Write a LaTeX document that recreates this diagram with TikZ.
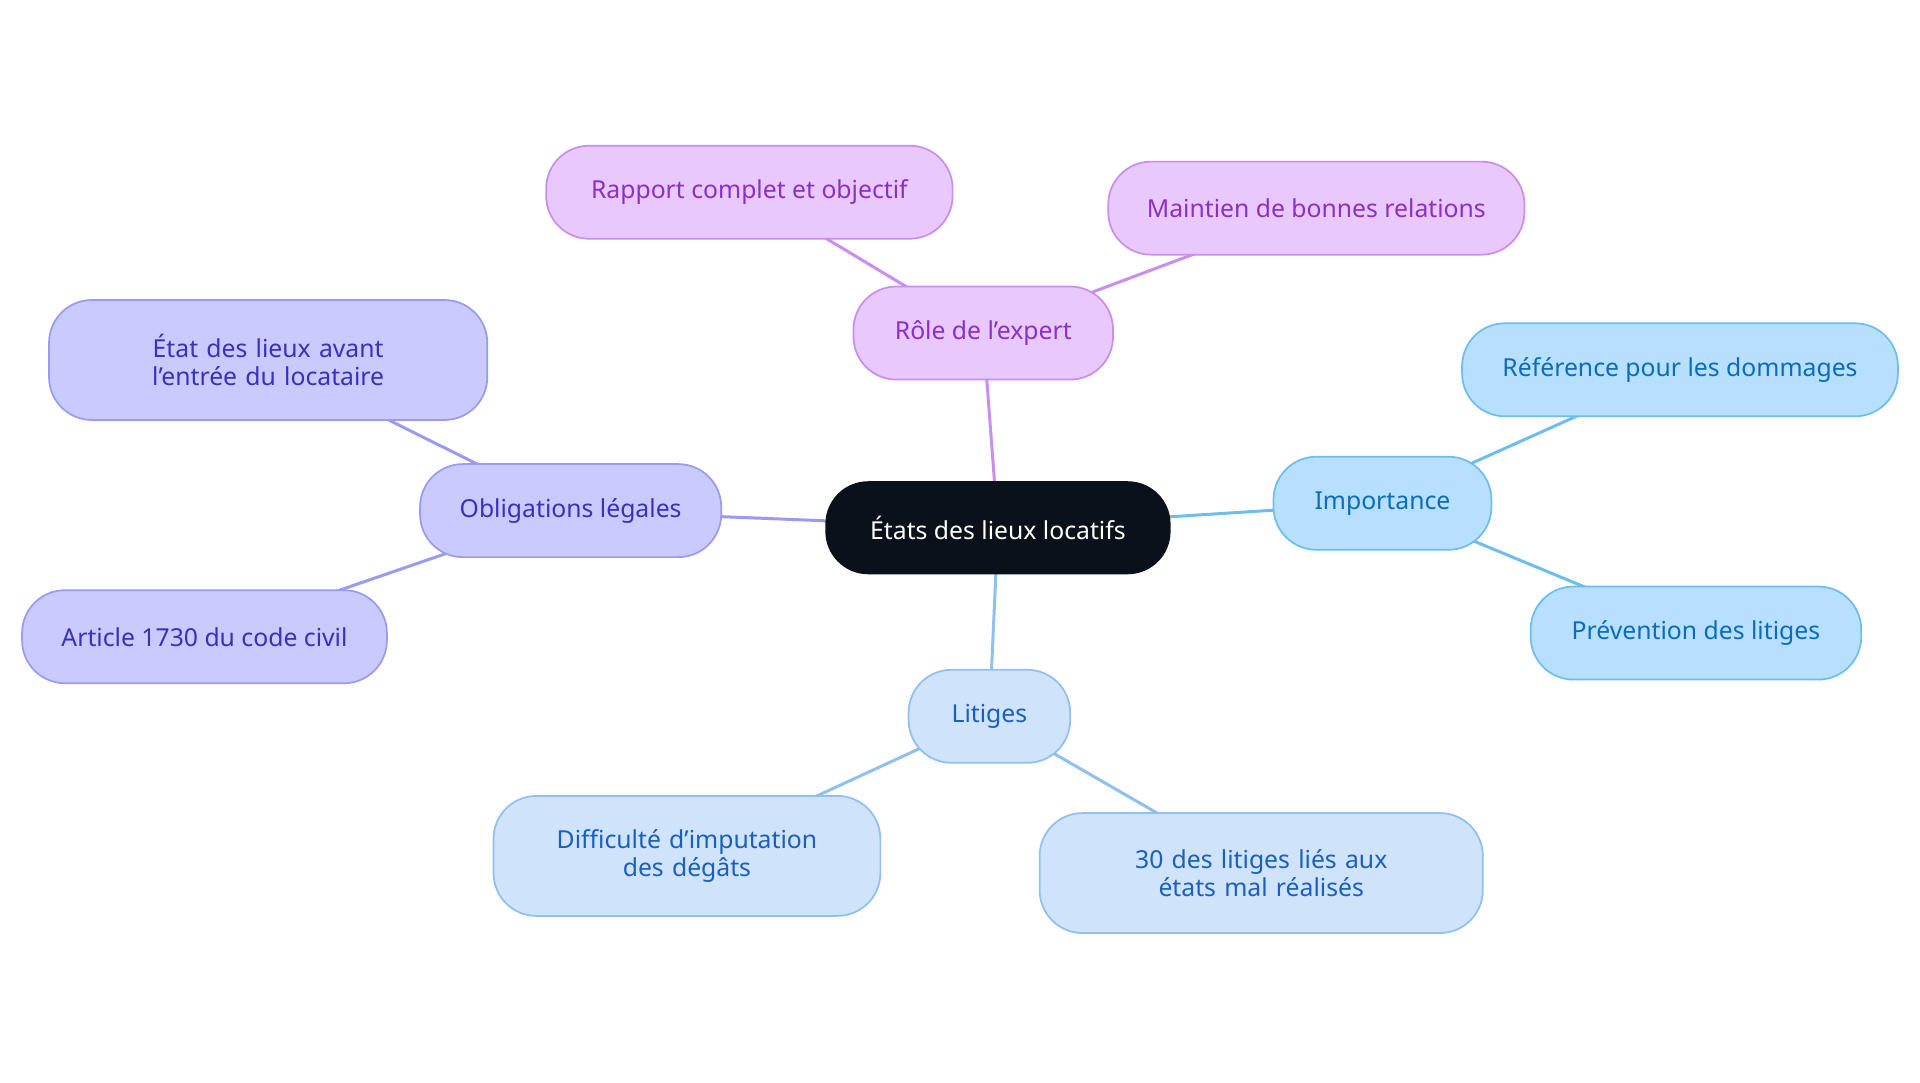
\documentclass[tikz,border=0pt]{standalone}
\usepackage{fontspec}
\setmainfont{Noto Sans}
\usetikzlibrary{backgrounds}
\definecolor{cfill}{HTML}{0B111B}
\definecolor{pfc}{HTML}{E8C8FD}\definecolor{pdc}{HTML}{C98EF0}\definecolor{ptc}{HTML}{8A2FC8}
\definecolor{ifc}{HTML}{CACAFE}\definecolor{idc}{HTML}{9A9AF0}\definecolor{itc}{HTML}{3A2FC0}
\definecolor{bfc}{HTML}{B6E0FD}\definecolor{bdc}{HTML}{6FBDF0}\definecolor{btc}{HTML}{0A6CC0}
\definecolor{lfc}{HTML}{CFE3FB}\definecolor{ldc}{HTML}{90BFF0}\definecolor{ltc}{HTML}{1A5FC0}
\tikzset{
 box/.style={rounded corners=0.7cm, minimum height=1.52cm, align=center, font=\fontsize{11.5}{13}\selectfont, line width=0.8pt},
 purp/.style={box, fill=pfc, draw=pdc, text=ptc},
 indi/.style={box, fill=ifc, draw=idc, text=itc},
 blu/.style={box, fill=bfc, draw=bdc, text=btc},
 lit/.style={box, fill=lfc, draw=ldc, text=ltc},
 edge/.style={line width=1.4pt},
}
\begin{document}
\begin{tikzpicture}[x=0.02cm,y=-0.02cm]
\useasboundingbox (0,0) rectangle (1568,884);
\node[box, fill=cfill, text=white, minimum width=5.64cm] (c) at (815,431) {États des lieux locatifs};
\node[purp, minimum width=4.24cm] (r) at (803,272) {Rôle de l’expert};
\node[purp, minimum width=6.64cm] (r1) at (612,157) {Rapport complet et objectif};
\node[purp, minimum width=6.8cm] (r2) at (1075,170) {Maintien de bonnes relations};
\node[blu, minimum width=3.56cm] (i) at (1129,411) {Importance};
\node[blu, minimum width=7.12cm] (i1) at (1372,302) {Référence pour les dommages};
\node[blu, minimum width=5.4cm] (i2) at (1385,517) {Prévention des litiges};
\node[lit, minimum width=2.64cm] (l) at (808,585) {Litiges};
\node[lit, minimum width=6.32cm, minimum height=1.96cm, text width=5.6cm] (l1) at (561,699) {Difficulté d'imputation des dégâts};
\node[lit, minimum width=7.24cm, minimum height=1.96cm, text width=6.4cm] (l2) at (1030,713) {30 des litiges liés aux états mal réalisés};
\node[indi, minimum width=4.92cm] (o) at (466,417) {Obligations légales};
\node[indi, minimum width=7.16cm, minimum height=1.96cm, text width=6.4cm] (o1) at (219,294) {État des lieux avant l’entrée du locataire};
\node[indi, minimum width=5.96cm] (o2) at (167,520) {Article 1730 du code civil};
\begin{scope}[on background layer]
\draw[edge, pdc] (c.center) -- (r.center) (r.center) -- (r1.center) (r.center) -- (r2.center);
\draw[edge, bdc] (c.center) -- (i.center) (i.center) -- (i1.center) (i.center) -- (i2.center);
\draw[edge, ldc] (c.center) -- (l.center) (l.center) -- (l1.center) (l.center) -- (l2.center);
\draw[edge, idc] (c.center) -- (o.center) (o.center) -- (o1.center) (o.center) -- (o2.center);
\end{scope}
\end{tikzpicture}
\end{document}
